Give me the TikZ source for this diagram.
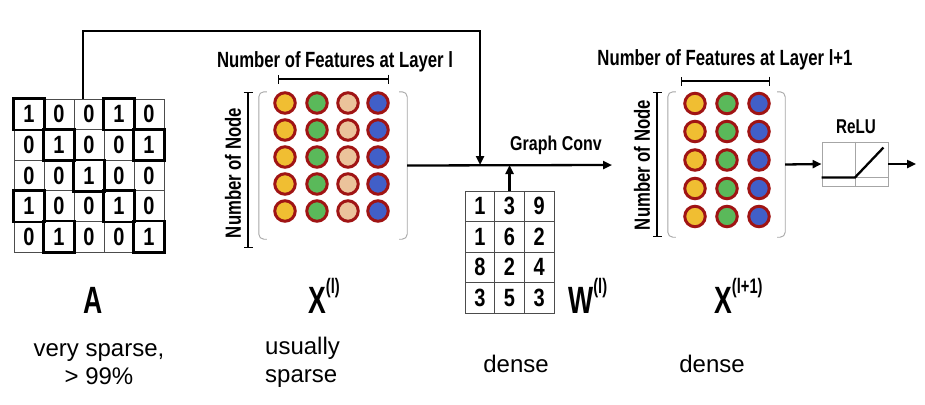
\documentclass[tikz,border=0pt]{standalone}
\usepackage{fontspec}
\setmainfont{Liberation Sans}
\newfontfamily\headfont[FakeStretch=0.76]{Liberation Sans}
\newfontfamily\digitfont[FakeStretch=0.8]{Liberation Sans}
\newfontfamily\labfont[FakeStretch=0.7]{Liberation Sans}
\usetikzlibrary{arrows.meta,positioning,calc}

\definecolor{dotyellow}{HTML}{F0BE32}
\definecolor{dotgreen}{HTML}{5AB95A}
\definecolor{dotpeach}{HTML}{EBC39B}
\definecolor{dotblue}{HTML}{415FC8}
\definecolor{dotrim}{HTML}{A01414}

\newcommand{\suptag}[1]{\raisebox{20pt}{\fontsize{21}{21}\selectfont #1}}

\begin{document}
\begin{tikzpicture}[
    x=1pt, y=-1pt,
    >={Triangle[length=9pt,width=8pt]},
    flow/.style={->, line width=2.3pt},
    cell/.style={draw=black!70, line width=0.8pt, minimum width=30pt, minimum height=30.6pt,
        inner sep=0pt, font=\digitfont\bfseries\fontsize{25}{25}\selectfont},
    wcell/.style={cell, minimum width=29.7pt, minimum height=30.5pt},
    hot/.style={draw=black, line width=2.6pt},
    feat/.style={circle, draw=dotrim, line width=3pt, minimum size=20.5pt, inner sep=0pt},
    paren/.style={draw=black!35, line width=0.9pt, rounded corners=5pt},
    dimbar/.style={{Bar[width=9pt]}-{Bar[width=9pt]}, line width=1.3pt},
    headtext/.style={font=\headfont\bfseries\fontsize{22}{22}\selectfont, inner sep=0pt},
    labtext/.style={font=\labfont\bfseries\fontsize{38}{38}\selectfont, inner sep=0pt},
    note/.style={font=\fontsize{24}{28}\selectfont, align=center, inner sep=0pt},
]
\useasboundingbox (0,0) rectangle (925,404);

% Adjacency matrix A
\foreach \row [count=\r] in {{1,0,0,1,0},{0,1,0,0,1},{0,0,1,0,0},{1,0,0,1,0},{0,1,0,0,1}} {
    \foreach \v [count=\c] in \row {
        \node[cell] (a-\r-\c) at ({14+30*\c-15}, {99+30.6*\r-15.3}) {\v};
    }
}
\foreach \r/\c in {1/1,1/4,2/2,2/5,3/3,4/1,4/4,5/2,5/5}
    \draw[hot] (a-\r-\c.north west) rectangle (a-\r-\c.south east);

% Feature matrix X(l)
\node[minimum width=148pt, minimum height=147pt, inner sep=0pt] (xl) at (333,165.5) {};
\draw[paren] ([xshift=8pt]xl.north west) -- (xl.north west) -- (xl.south west) -- ([xshift=8pt]xl.south west);
\draw[paren] ([xshift=-8pt]xl.north east) -- (xl.north east) -- (xl.south east) -- ([xshift=-8pt]xl.south east);
\foreach \px/\fc [count=\c] in {285/dotyellow,317/dotgreen,348/dotpeach,378/dotblue}
    \foreach \py [count=\r] in {103,130,157,184,211}
        \node[feat, fill=\fc] (xl-\r-\c) at (\px,\py) {};
\draw[dimbar] (278,79) -- (389,79);
\draw[dimbar] (248,92) -- (248,248);
\node[headtext, anchor=base] (xlhead) at (335,67) {Number of Features at Layer l};
\node[headtext, rotate=90] (xlnode) at (233,173) {Number of Node};

% Feature matrix X(l+1)
\node[minimum width=117pt, minimum height=145pt, inner sep=0pt] (xn) at (726.5,164.5) {};
\draw[paren] ([xshift=8pt]xn.north west) -- (xn.north west) -- (xn.south west) -- ([xshift=8pt]xn.south west);
\draw[paren] ([xshift=-8pt]xn.north east) -- (xn.north east) -- (xn.south east) -- ([xshift=-8pt]xn.south east);
\foreach \px/\fc [count=\c] in {695/dotyellow,727/dotgreen,759/dotblue}
    \foreach \py [count=\r] in {103.5,131.5,160,188.5,216.5}
        \node[feat, fill=\fc] (xn-\r-\c) at (\px,\py) {};
\draw[dimbar] (681,81) -- (770,81);
\draw[dimbar] (657,92) -- (657,237);
\node[headtext, anchor=base] (xnhead) at (725,66) {Number of Features at Layer l+1};
\node[headtext, rotate=90] (xnnode) at (642,165) {Number of Node};

% Weight matrix W(l)
\foreach \row [count=\r] in {{1,3,9},{1,6,2},{8,2,4},{3,5,3}} {
    \foreach \v [count=\c] in \row {
        \node[wcell] (w-\r-\c) at ({465+29.7*\c-14.85}, {191+30.5*\r-15.25}) {\v};
    }
}

% ReLU block
\node[draw=black!35, line width=0.9pt, minimum width=66pt, minimum height=44pt, inner sep=0pt] (relu) at (855,164) {};
\draw[black!35, line width=0.9pt] (relu.north) -- (relu.south);
\draw[black!35, line width=0.9pt] ([yshift=9pt]relu.south west) -- ([yshift=9pt]relu.south east);
\draw[line width=2.3pt] ([yshift=9pt]relu.south west) -- ([yshift=9pt]relu.south) -- ([xshift=-5pt,yshift=-6pt]relu.north east);
\node[font=\headfont\bfseries\fontsize{20}{20}\selectfont, inner sep=0pt, anchor=base] (relulab) at (856,133) {ReLU};

% Connectors
\coordinate (atop) at (83,99);
\coordinate (merge) at (480,165);
\coordinate (convend) at (612,165);
\coordinate (out) at (916,164);
\draw[flow] (atop) |- (480,31) -- (merge);
\draw[flow] (xl.east) -- (convend);
\draw[flow] (w-1-2.north) -- (w-1-2.north |- merge);
\draw[flow] (xn.east) -- (relu.west);
\draw[flow] (relu.east) -- (out);
\node[font=\digitfont\bfseries\fontsize{20}{20}\selectfont, inner sep=0pt, anchor=base west] (convlab) at (510,150) {Graph Conv};

% Labels
\node[labtext, anchor=base] (alab) at (93,313) {A};
\node[labtext, anchor=base west] (xllab) at (308,313) {X\suptag{(l)}};
\node[labtext, anchor=base west] (wlab) at (568,313) {W\suptag{(l)}};
\node[labtext, anchor=base west] (xnlab) at (714,313) {X\suptag{(l+1)}};

% Notes
\node[note] (anote) at (99,364) {very sparse,\\ > 99\%};
\node[note, align=left, anchor=west] (xlnote) at (265,362) {usually\\ sparse};
\node[note, anchor=base] (wnote) at (516,372) {dense};
\node[note, anchor=base] (xnnote) at (712,372) {dense};

\end{tikzpicture}
\end{document}
